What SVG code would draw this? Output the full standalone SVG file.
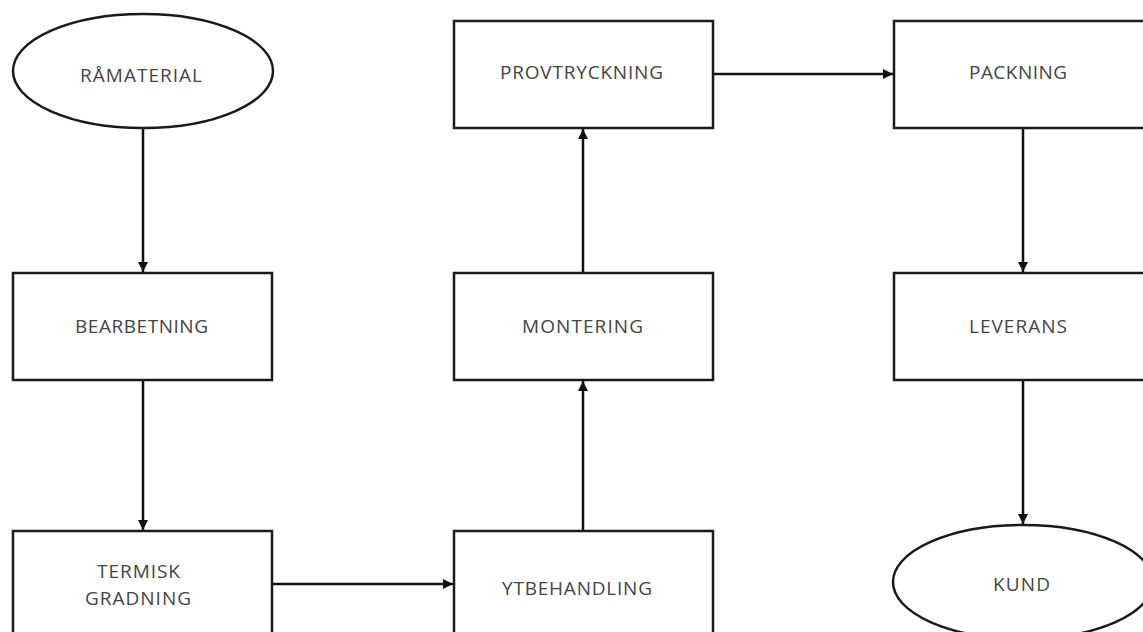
<svg xmlns="http://www.w3.org/2000/svg" width="1143" height="632" viewBox="0 0 1143 632">
  <style>
    .shape { fill: #ffffff; stroke: #1a1a1a; stroke-width: 2.5; }
    .label { font-family: "Open Sans", "Liberation Sans", sans-serif; font-size: 19px; fill: #444444; text-anchor: middle; dominant-baseline: central; }
    .link { fill: none; stroke: #111111; stroke-width: 2.5; marker-end: url(#arrow); }
  </style>
  <defs>
    <marker id="arrow" viewBox="0 0 10 10" refX="10" refY="5" markerWidth="4" markerHeight="4" orient="auto" markerUnits="strokeWidth">
      <path d="M0,0 L10,5 L0,10 z" fill="#111111"/>
    </marker>
  </defs>
  <rect width="1143" height="632" fill="#ffffff"/>

  <g id="connectors">
    <line class="link" x1="143" y1="129" x2="143" y2="272"/>
    <line class="link" x1="143" y1="381" x2="143" y2="530"/>
    <line class="link" x1="273" y1="584" x2="453" y2="584"/>
    <line class="link" x1="583" y1="530" x2="583" y2="381"/>
    <line class="link" x1="583" y1="272" x2="583" y2="129"/>
    <line class="link" x1="714" y1="74" x2="893" y2="74"/>
    <line class="link" x1="1023" y1="129" x2="1023" y2="272"/>
    <line class="link" x1="1023" y1="381" x2="1023" y2="524"/>
  </g>

  <g id="ramaterial">
    <ellipse class="shape" cx="143" cy="71" rx="130" ry="57"/>
    <text class="label" x="141" y="75" textLength="122" lengthAdjust="spacing">RÅMATERIAL</text>
  </g>
  <g id="bearbetning">
    <rect class="shape" x="13" y="273" width="259" height="107"/>
    <text class="label" x="141.5" y="326" textLength="133" lengthAdjust="spacing">BEARBETNING</text>
  </g>
  <g id="termisk-gradning">
    <rect class="shape" x="13" y="531" width="259" height="107"/>
    <text class="label" x="138.5" y="571" textLength="83" lengthAdjust="spacing">TERMISK</text>
    <text class="label" x="138" y="598" textLength="106" lengthAdjust="spacing">GRADNING</text>
  </g>
  <g id="ytbehandling">
    <rect class="shape" x="454" y="531" width="259" height="107"/>
    <text class="label" x="577" y="588" textLength="150" lengthAdjust="spacing">YTBEHANDLING</text>
  </g>
  <g id="montering">
    <rect class="shape" x="454" y="273" width="259" height="107"/>
    <text class="label" x="582.5" y="326" textLength="121" lengthAdjust="spacing">MONTERING</text>
  </g>
  <g id="provtryckning">
    <rect class="shape" x="454" y="21" width="259" height="107"/>
    <text class="label" x="581.5" y="72" textLength="163" lengthAdjust="spacing">PROVTRYCKNING</text>
  </g>
  <g id="packning">
    <rect class="shape" x="894" y="21" width="259" height="107"/>
    <text class="label" x="1018" y="72" textLength="98" lengthAdjust="spacing">PACKNING</text>
  </g>
  <g id="leverans">
    <rect class="shape" x="894" y="273" width="259" height="107"/>
    <text class="label" x="1018" y="326" textLength="98" lengthAdjust="spacing">LEVERANS</text>
  </g>
  <g id="kund">
    <ellipse class="shape" cx="1023" cy="582" rx="130" ry="57"/>
    <text class="label" x="1021.5" y="584" textLength="57" lengthAdjust="spacing">KUND</text>
  </g>
</svg>
